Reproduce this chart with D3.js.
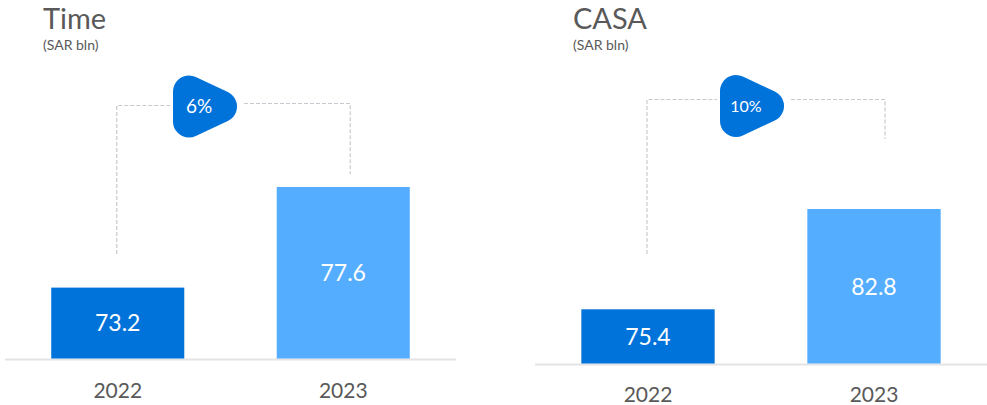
<!DOCTYPE html>
<html lang="en">
<head>
<meta charset="UTF-8">
<title>Time and CASA deposits</title>
<style>
  body { margin: 0; background: #ffffff; }
  svg { display: block; font-family: 'Lato', 'Open Sans', sans-serif; }
  .title { fill: #595959; font-size: 29px; }
  .unit { fill: #595959; font-size: 14px; }
  .year { fill: #595959; font-size: 21px; }
  .value { fill: #ffffff; font-size: 23px; }
  .bracket { fill: none; stroke: #c9c9d1; stroke-width: 1.2px; stroke-dasharray: 4 2; }
  .axis-line { stroke: #e4e4e4; stroke-width: 2px; }
</style>
<script src="https://d3js.org/d3.v7.min.js"></script>
</head>
<body>
<svg id="chart" width="987" height="405"></svg>
<script>
// data
const years = ["2022", "2023"];
const titles = ["Time", "CASA"];
const timeValues = [73.2, 77.6];
const casaValues = [75.4, 82.8];
const growthLabels = ["6%", "10%"];
const barColors = ["#0073db", "#55adff"];

// layout for each panel (positions only, no data)
const panels = [
  { title: titles[0], values: timeValues, growth: growthLabels[0],
    x0: 5, x1: 456, base: 358.5, yMin: 70.1, topY: 187,
    titleX: 43, bracketY: [105.5, 103.5], bracketEnd: [254, 174], rightShift: 7,
    bubble: { cx: 205, cy: 106.5, font: 19 }, yearDy: 39.5 },
  { title: titles[1], values: casaValues, growth: growthLabels[1],
    x0: 535, x1: 987, base: 363.5, yMin: 71.4, topY: 209,
    titleX: 573, bracketY: [99.5, 99.5], bracketEnd: [254, 139], rightShift: 11,
    bubble: { cx: 752, cy: 106, font: 16 }, yearDy: 38.5 }
];

const svg = d3.select("#chart");

panels.forEach(p => {
  const g = svg.append("g");

  const x = d3.scaleBand()
    .domain(years)
    .range([p.x0, p.x1])
    .paddingInner(0.41)
    .paddingOuter(0.205);

  const y = d3.scaleLinear()
    .domain([p.yMin, d3.max(p.values)])
    .range([p.base, p.topY]);

  // titles
  g.append("text").attr("class", "title")
    .attr("x", p.titleX).attr("y", 29).text(p.title);
  g.append("text").attr("class", "unit")
    .attr("x", p.titleX).attr("y", 50).text("(SAR bln)");

  // baseline
  g.append("line").attr("class", "axis-line")
    .attr("x1", p.x0).attr("x2", p.x1)
    .attr("y1", p.base + 1).attr("y2", p.base + 1);

  // bars
  g.selectAll("rect.bar")
    .data(p.values)
    .join("rect")
    .attr("class", "bar")
    .attr("x", (d, i) => x(years[i]))
    .attr("width", x.bandwidth())
    .attr("y", d => y(d))
    .attr("height", d => p.base - y(d))
    .attr("fill", (d, i) => barColors[i]);

  // values inside bars
  g.selectAll("text.value")
    .data(p.values)
    .join("text")
    .attr("class", "value")
    .attr("text-anchor", "middle")
    .attr("x", (d, i) => x(years[i]) + x.bandwidth() / 2)
    .attr("y", d => (y(d) + p.base) / 2)
    .attr("dy", "0.36em")
    .text(d => d.toFixed(1));

  // year labels
  g.selectAll("text.year")
    .data(years)
    .join("text")
    .attr("class", "year")
    .attr("text-anchor", "middle")
    .attr("x", d => x(d) + x.bandwidth() / 2)
    .attr("y", p.base + p.yearDy)
    .text(d => d);

  // dashed bracket
  const lx = x(years[0]) + x.bandwidth() / 2 - 1;
  const rx = x(years[1]) + x.bandwidth() / 2 + p.rightShift;
  const b = p.bubble;
  const half = 32;
  g.append("path").attr("class", "bracket")
    .attr("d", `M${lx},${p.bracketEnd[0]} V${p.bracketY[0]} H${b.cx - half - 3}`);
  g.append("path").attr("class", "bracket")
    .attr("d", `M${b.cx + half + 7},${p.bracketY[1]} H${rx} V${p.bracketEnd[1]}`);

  // growth bubble: rounded triangle pointing right
  const r = 16;
  const tri = [
    [b.cx - half + r, b.cy - 31 + r],
    [b.cx - half + r, b.cy + 31 - r],
    [b.cx + half - r, b.cy]
  ];
  g.append("path")
    .attr("d", d3.line()(tri) + "Z")
    .attr("fill", barColors[0])
    .attr("stroke", barColors[0])
    .attr("stroke-width", r * 2)
    .attr("stroke-linejoin", "round");

  g.append("text")
    .attr("x", b.cx - 6)
    .attr("y", b.cy)
    .attr("dy", "0.36em")
    .attr("text-anchor", "middle")
    .attr("fill", "#ffffff")
    .style("font-size", b.font + "px")
    .text(p.growth);
});
</script>
</body>
</html>
